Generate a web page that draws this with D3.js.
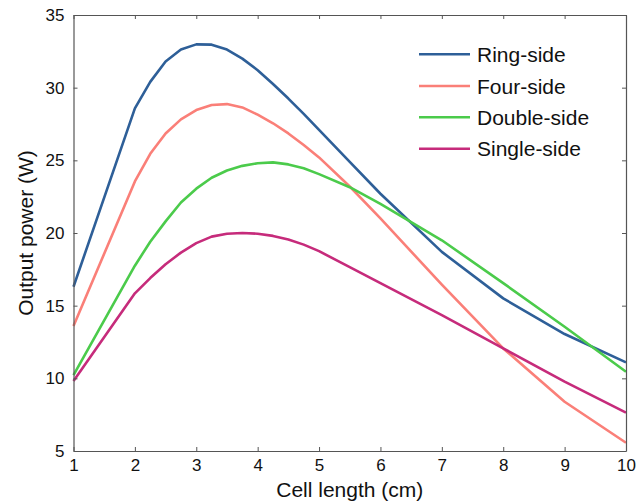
<!DOCTYPE html>
<html>
<head>
<meta charset="utf-8">
<script src="https://cdn.jsdelivr.net/npm/d3@7"></script>
<style>
  html, body { margin: 0; padding: 0; background: #fff; }
  svg { display: block; font-family: Arial, "Liberation Sans", sans-serif; }
</style>
</head>
<body>
<svg id="chart" width="643" height="503"></svg>
<script>
// Cell length samples (cm)
const cellLength = [1, 2, 2.25, 2.5, 2.75, 3, 3.25, 3.5, 3.75, 4, 4.25, 4.5, 4.75, 5, 5.5, 6, 7, 8, 9, 10];

// Output power (W) for each heating arrangement
const ringSide   = [16.3, 28.58, 30.4, 31.8, 32.62, 32.98, 32.96, 32.62, 32.0, 31.2, 30.25, 29.25, 28.2, 27.1, 24.9, 22.7, 18.7, 15.5, 13.05, 11.1];
const fourSide   = [13.6, 23.55, 25.45, 26.85, 27.82, 28.46, 28.81, 28.87, 28.64, 28.14, 27.55, 26.85, 26.05, 25.2, 23.2, 21.0, 16.45, 12.06, 8.39, 5.57];
const doubleSide = [10.22, 17.75, 19.4, 20.8, 22.1, 23.05, 23.8, 24.3, 24.62, 24.8, 24.86, 24.72, 24.45, 24.05, 23.15, 22.0, 19.5, 16.55, 13.55, 10.45];
const singleSide = [9.82, 15.85, 16.9, 17.85, 18.65, 19.3, 19.75, 19.95, 20.0, 19.95, 19.8, 19.55, 19.2, 18.75, 17.65, 16.55, 14.35, 12.06, 9.77, 7.64];

const seriesNames  = ["Ring-side", "Four-side", "Double-side", "Single-side"];
const seriesColors = ["#2e5f98", "#fa7f78", "#4bcb4b", "#c62b7b"];
const seriesValues = [ringSide, fourSide, doubleSide, singleSide];

const xTicks = [1, 2, 3, 4, 5, 6, 7, 8, 9, 10];
const yTicks = [5, 10, 15, 20, 25, 30, 35];

const svg = d3.select("#chart");
const plotLeft = 73.5, plotRight = 626, plotTop = 15, plotBottom = 451;

const x = d3.scaleLinear().domain([1, 10]).range([plotLeft, plotRight]);
const y = d3.scaleLinear().domain([5, 35]).range([plotBottom, plotTop]);

const axisColor = "#555";
const tickLen = 4;

// Series lines
const line = d3.line()
  .x((d, i) => x(cellLength[i]))
  .y(d => y(d));

seriesValues.forEach((vals, k) => {
  svg.append("path")
    .datum(vals)
    .attr("fill", "none")
    .attr("stroke", seriesColors[k])
    .attr("stroke-width", 2.6)
    .attr("stroke-linejoin", "round")
    .attr("d", line);
});

// Axes (ticks point inward on all four sides)
const styleAxis = g => {
  g.select(".domain").attr("stroke", axisColor).attr("stroke-width", 1.2);
  g.selectAll(".tick line").attr("stroke", axisColor).attr("stroke-width", 1);
  g.selectAll(".tick text").attr("fill", "#111").attr("font-size", 17)
    .attr("font-family", "Arial, 'Liberation Sans', sans-serif");
};

svg.append("g")
  .attr("transform", `translate(0,${plotBottom})`)
  .call(d3.axisBottom(x).tickValues(xTicks).tickFormat(d3.format("d"))
    .tickSizeInner(-tickLen).tickSizeOuter(0).tickPadding(8))
  .call(styleAxis);

svg.append("g")
  .attr("transform", `translate(0,${plotTop})`)
  .call(d3.axisTop(x).tickValues(xTicks).tickFormat("")
    .tickSizeInner(-tickLen).tickSizeOuter(0))
  .call(styleAxis);

svg.append("g")
  .attr("transform", `translate(${plotLeft},0)`)
  .call(d3.axisLeft(y).tickValues(yTicks).tickFormat(d3.format("d"))
    .tickSizeInner(-tickLen).tickSizeOuter(0).tickPadding(9))
  .call(styleAxis);

svg.append("g")
  .attr("transform", `translate(${plotRight},0)`)
  .call(d3.axisRight(y).tickValues(yTicks).tickFormat("")
    .tickSizeInner(-tickLen).tickSizeOuter(0))
  .call(styleAxis);

// Axis titles
svg.append("text")
  .attr("x", (plotLeft + plotRight) / 2)
  .attr("y", 497)
  .attr("text-anchor", "middle")
  .attr("font-size", 21)
  .attr("fill", "#111")
  .text("Cell length (cm)");

svg.append("text")
  .attr("transform", `translate(33,${(plotTop + plotBottom) / 2}) rotate(-90)`)
  .attr("text-anchor", "middle")
  .attr("font-size", 21)
  .attr("fill", "#111")
  .text("Output power (W)");

// Legend
const legend = svg.append("g");
const legendY = [54.3, 86, 117.3, 148.7];
seriesNames.forEach((name, k) => {
  legend.append("line")
    .attr("x1", 419).attr("x2", 470)
    .attr("y1", legendY[k]).attr("y2", legendY[k])
    .attr("stroke", seriesColors[k])
    .attr("stroke-width", 2.6);
  legend.append("text")
    .attr("x", 477)
    .attr("y", legendY[k])
    .attr("dy", "0.36em")
    .attr("font-size", 21)
    .attr("fill", "#111")
    .text(name);
});
</script>
</body>
</html>
